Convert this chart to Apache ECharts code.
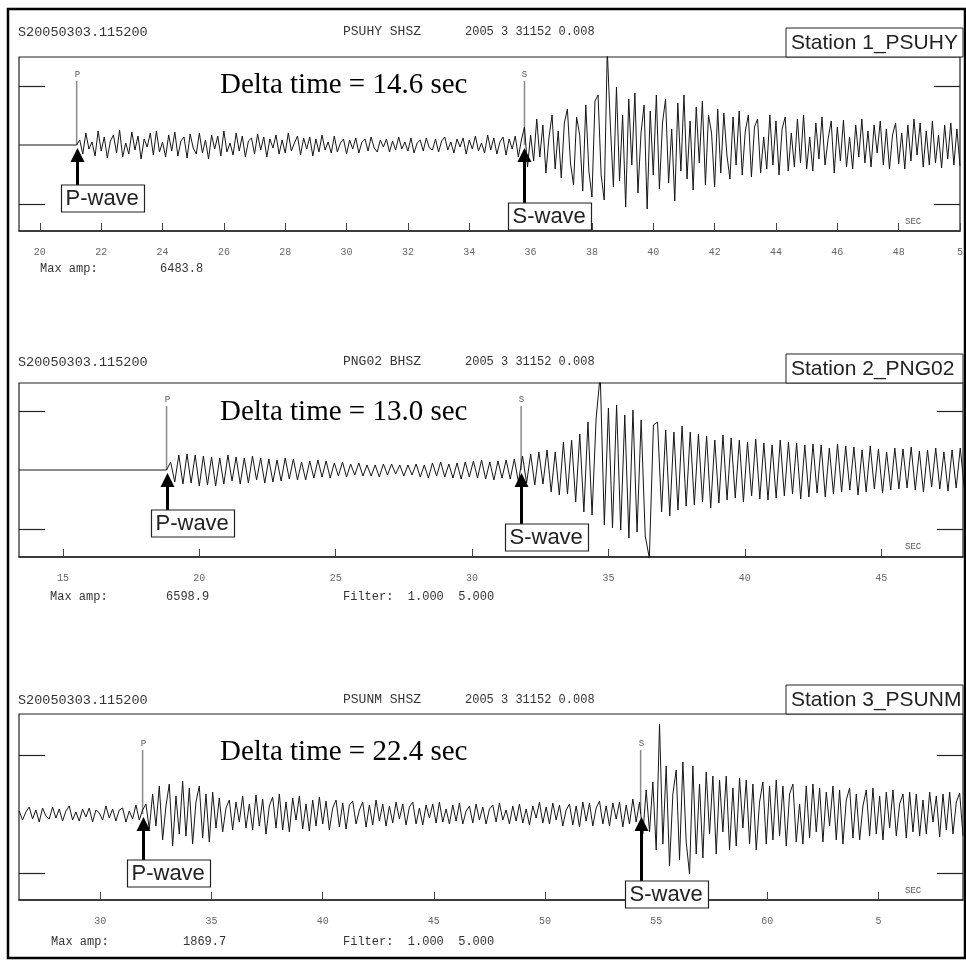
<!DOCTYPE html>
<html><head><meta charset="utf-8">
<script src="https://cdn.jsdelivr.net/npm/echarts@6/dist/echarts.min.js"></script>
<style>html,body{margin:0;padding:0;background:#fff}#c{width:966px;height:960px}</style>
</head><body><div id="c"></div><script>
// Three vertical-component seismograms of the 2005-03-03 event with P and S picks.
const eventId = 'S20050303.115200';
const channelNames = ['PSUHY SHSZ', 'PNG02 BHSZ', 'PSUNM SHSZ'];
const originTimes = ['2005 3 31152 0.008', '2005 3 31152 0.008', '2005 3 31152 0.008'];
const stationNames = ['Station 1_PSUHY', 'Station 2_PNG02', 'Station 3_PSUNM'];
const maxAmps = ['6483.8', '6598.9', '1869.7'];
const filterBands = ['', '1.000  5.000', '1.000  5.000'];
const pickP = [21.2, 18.8, 31.9];
const pickS = [35.8, 31.8, 54.3];
const deltaLabels = ['Delta time = 14.6 sec', 'Delta time = 13.0 sec', 'Delta time = 22.4 sec'];

// time windows (s) and tick labels of each record
const window1 = [19.32, 50.0];
const window2 = [13.39, 48.0];
const window3 = [26.34, 68.8];
const ticks1 = [20, 22, 24, 26, 28, 30, 32, 34, 36, 38, 40, 42, 44, 46, 48, 50];
const tickLabels1 = ['20', '22', '24', '26', '28', '30', '32', '34', '36', '38', '40', '42', '44', '46', '48', '5'];
const ticks2 = [15, 20, 25, 30, 35, 40, 45];
const tickLabels2 = ['15', '20', '25', '30', '35', '40', '45'];
const ticks3 = [30, 35, 40, 45, 50, 55, 60, 65];
const tickLabels3 = ['30', '35', '40', '45', '50', '55', '60', '5'];

// amplitude ranges shown in each panel (display units)
const ampRange1 = [-86, 88];
const ampRange2 = [-87, 87];
const ampRange3 = [-86, 100];
const ampMarks = [-59, 59];

// sampled traces: start time, sample step, amplitudes
const trace1Start = 21.2, trace1Step = 0.1;
const trace1 = [
  0, 5, -9, 12, -4, 3, -11, 14, -6, 8,
  -13, 4, 10, -8, 15, -12, 2, -9, 13, -5,
  9, -14, 6, -2, 12, -10, 14, -7, 3, -12,
  10, -6, 13, -11, 4, 8, -13, 11, -3, -9,
  12, -8, 5, -14, 10, -4, 9, -11, 14, -7,
  2, -10, 12, -6, 9, -12, 4, 7, -9, 11,
  -5, 8, -12, 6, -3, 10, -9, 5, -8, 12,
  -6, 2, 9, -10, 7, -4, 8, -11, 6, -7,
  10, -5, 3, -8, 9, -7, 2, 6, -9, 5,
  -4, 7, -8, 3, 6, -6, 8, -3, -7, 5,
  -2, 6, -7, 4, -5, 8, -4, 3, -6, 7,
  -8, 2, 5, -6, 7, -3, -5, 6, -7, 4,
  8, -5, 3, -8, 6, -2, 7, -9, 5, -4,
  9, -6, 2, -8, 10, -5, 7, -9, 3, 8,
  -10, 6, -4, 9, -12, 5, 18, -22, 10, -16,
  26, -12, 20, -28, 8, 30, -24, 14, -33, 22,
  36, -18, -40, 28, 10, -46, 40, -26, -52, 44,
  50, -30, -55, 95, 20, -42, 58, -36, 30, -62,
  46, -20, 52, -48, 12, 40, -64, 34, -30, 50,
  -44, 22, 46, -38, 16, -56, 42, -26, 50, -34,
  24, -45, 38, -18, 44, -40, 30, 12, -42, 36,
  -28, 32, -10, -34, 28, -20, 34, -30, 14, 30,
  -32, 18, 26, -28, 8, -24, 30, -20, 24, -30,
  16, 28, -26, 12, -22, 26, -18, 30, -24, 8,
  -26, 22, -14, 28, -20, 6, 24, -28, 18, -16,
  25, -22, 8, -24, 20, -12, 26, -18, 14, -22,
  20, -8, 24, -20, 16, -24, 10, 22, -19, 12,
  -24, 20, -16, 26, -10, 22, -22, 14, -20, 24,
  -18, 10, -23, 20, -14, 22, -20, 16, -21
];
const trace2Start = 18.8, trace2Step = 0.15;
const trace2 = [
  0, 8, -12, 15, -14, 16, -13, 15, -16, 14,
  -15, 13, -16, 12, -14, 15, -11, 13, -14, 12,
  -13, 14, -10, 12, -13, 11, -12, 10, -11, 12,
  -9, 11, -10, 8, -10, 9, -8, 10, -7, 9,
  -8, 7, -6, 8, -7, 6, -5, 7, -6, 5,
  -6, 5, -7, 6, -5, 6, -4, 5, -6, 5,
  -5, 6, -7, 5, -8, 7, -6, 8, -7, 6,
  -8, 7, -9, 8, -7, 9, -8, 10, -9, 8,
  -10, 9, -8, 10, -9, 11, -12, 14, -13, 16,
  -15, 18, -14, 20, -22, 18, -25, 28, -24, 30,
  -32, 36, -42, 48, -45, 52, 95, -55, 62, -58,
  65, -60, 55, -68, 60, -62, 50, -66, -88, 45,
  48, -42, 40, -46, 38, -40, 44, -36, 38, -35,
  36, -32, 34, -38, 30, -33, 35, -30, 32, -28,
  30, -32, 28, -26, 31, -29, 27, -30, 25, -28,
  30, -26, 28, -24, 27, -29, 25, -27, 26, -23,
  25, -27, 22, -24, 26, -22, 24, -20, 23, -25,
  20, -22, 24, -19, 21, -23, 18, -20, 22, -19,
  21, -18, 23, -20, 19, -22, 20, -17, 22, -19,
  18, -21, 20, -18, 22, -19
];
const trace3Start = 26.35, trace3Step = 0.15;
const trace3 = [
  3, -6, 2, 7, -5, 4, -8, 6, -2, -5,
  7, -4, 5, -7, 3, 8, -6, 2, -7, 5,
  -3, 6, -8, 4, 1, -6, 8, -4, 5, -7,
  4, 6, -8, 3, -5, 9, -6, 4, 10, -15,
  20, -12, 28, -26, 8, 30, -32, 18, -20, 33,
  -22, 26, -30, 12, 28, -24, 20, -28, 22, -14,
  16, -18, 6, 14, -16, 12, -8, 18, -14, 10,
  -16, 19, -12, 15, -20, 8, 17, -14, 20, -16,
  12, -18, 16, -6, 18, -15, 10, -17, 14, -12,
  17, -10, 13, -16, 6, 14, -13, 11, -15, 9,
  13, -10, 4, 12, -13, 9, -11, 14, -7, 10,
  -12, 8, -9, 12, -5, 10, -11, 7, 12, -10,
  6, -11, 9, -4, 10, -9, 12, -8, 5, -10,
  9, -7, 11, -10, 3, 8, -9, 10, -6, 7,
  -10, 5, 9, -8, 11, -6, 4, -10, 8, -7,
  10, -9, 5, -11, 8, -4, 12, -9, 7, -10,
  11, -6, 9, -12, 4, 10, -11, 8, -13, 12,
  -7, 11, -12, 6, 13, -10, 8, -12, 11, -5,
  12, -13, 9, -10, 15, -8, 12, -20, 24, -18,
  32, -36, 90, -30, 48, -52, 20, 44, -46, 52,
  -28, -60, 48, -40, 30, -44, 42, -20, 38, -40,
  34, -18, 38, -36, 26, -32, 36, -14, 34, -30,
  30, -36, 12, 32, -30, 28, -26, 34, -22, 28,
  -32, 20, 30, -28, 10, -30, 28, -24, 30, -18,
  26, -28, 22, -12, 28, -26, 24, -30, 14, 26,
  -24, 20, -26, 8, 24, -22, 26, -20, 18, -26,
  22, -14, 24, -22, 10, 20, -24, 22, -18, 20,
  -22, 14, -20, 22, -8, 18, -23, 20, -16, 22,
  -20, 12, 21, -22
];

const panels = [
  { win: window1, ticks: ticks1, labels: tickLabels1, amp: ampRange1, start: trace1Start, step: trace1Step, trace: trace1, quiet: true },
  { win: window2, ticks: ticks2, labels: tickLabels2, amp: ampRange2, start: trace2Start, step: trace2Step, trace: trace2, quiet: true },
  { win: window3, ticks: ticks3, labels: tickLabels3, amp: ampRange3, start: trace3Start, step: trace3Step, trace: trace3, quiet: false }
];

// layout of each panel (pixels)
const layout = [
  { top: 57, height: 174, head: 32, station: 28, maxRow: 269, maxX: [40, 160], sec: 222, pBox: 185, sBox: 203, deltaY: 85 },
  { top: 383, height: 174, head: 362, station: 354, maxRow: 597, maxX: [50, 166], sec: 547, pBox: 510, sBox: 524, deltaY: 412 },
  { top: 714, height: 186, head: 700, station: 685, maxRow: 942, maxX: [51, 183], sec: 891, pBox: 860, sBox: 881, deltaY: 752 }
];

const MONO = '"Liberation Mono", "DejaVu Sans Mono", monospace';
const chart = echarts.init(document.getElementById('c'));

function buildSeries(p) {
  const pts = [];
  if (p.quiet) pts.push([p.win[0], 0]);
  p.trace.forEach((v, k) => pts.push([+(p.start + k * p.step).toFixed(3), v]));
  return pts;
}

const grid = [], xAxis = [], yAxis = [], series = [];
panels.forEach((p, i) => {
  const L = layout[i];
  grid.push({ left: 19, right: 3, top: L.top, height: L.height, show: true, borderColor: '#222', borderWidth: 1.2, backgroundColor: 'transparent' });
  xAxis.push({
    type: 'value', gridIndex: i, min: p.win[0], max: p.win[1],
    axisLine: { onZero: false, lineStyle: { color: '#222', width: 1.5 } },
    axisTick: { inside: true, length: 8, customValues: p.ticks, lineStyle: { color: '#444', width: 1 } },
    axisLabel: { customValues: p.ticks, margin: 16, color: '#666', fontFamily: MONO, fontSize: 10,
      formatter: v => { const k = p.ticks.indexOf(Math.round(v)); return k >= 0 ? p.labels[k] : ''; } },
    splitLine: { show: false }
  });
  ['left', 'right'].forEach(side => yAxis.push({
    type: 'value', gridIndex: i, position: side, min: p.amp[0], max: p.amp[1],
    axisLine: { show: false, onZero: false },
    axisTick: { inside: true, length: 26, customValues: ampMarks, lineStyle: { color: '#222', width: 1.2 } },
    axisLabel: { show: false }, splitLine: { show: false }
  }));
  series.push({ type: 'line', xAxisIndex: i, yAxisIndex: 2 * i, data: buildSeries(p), showSymbol: false,
    lineStyle: { color: '#161616', width: 1 }, clip: true, animation: false, z: 3 });
  [pickP[i], pickS[i]].forEach(t => series.push({ type: 'line', xAxisIndex: i, yAxisIndex: 2 * i,
    data: [[t, 0], [t, 64]], showSymbol: false, lineStyle: { color: '#8a8a8a', width: 1.5 }, animation: false, z: 2 }));
});

chart.setOption({ animation: false, grid, xAxis, yAxis, series });

// annotations positioned from the picks
const g = [];
g.push({ type: 'rect', shape: { x: 8, y: 9, width: 957, height: 949 }, style: { fill: 'none', stroke: '#000', lineWidth: 2.5 }, silent: true });
panels.forEach((p, i) => {
  const L = layout[i];
  const txt = (x, y, text, font, color, align, z) => g.push({ type: 'text', x, y, z: z || 10, style: { text, font, fill: color || '#333', textAlign: align || 'left', textVerticalAlign: 'middle' } });
  txt(18, L.head, eventId, '13.5px ' + MONO, '#333');
  txt(343, L.head, channelNames[i], '13px ' + MONO, '#333');
  txt(465, L.head, originTimes[i], '12px ' + MONO, '#333');
  // station name box
  g.push({ type: 'rect', z: 9, shape: { x: 786, y: L.station, width: 177, height: L.top - L.station }, style: { fill: '#fff', stroke: '#222', lineWidth: 1 } });
  txt(791, L.station + (L.top - L.station) / 2 + 1, stationNames[i], '21px "Liberation Sans", Arial, sans-serif', '#222', 'left', 12);
  txt(L.maxX[0], L.maxRow, 'Max amp:', '12px ' + MONO, '#333');
  txt(L.maxX[1], L.maxRow, maxAmps[i], '12px ' + MONO, '#333');
  if (filterBands[i]) txt(343, L.maxRow, 'Filter:  ' + filterBands[i], '12px ' + MONO, '#333');
  txt(905, L.sec, 'SEC', '9px ' + MONO, '#555');
  txt(220, L.deltaY, deltaLabels[i], '29px "Liberation Serif", "Times New Roman", serif', '#000');
  [['P', pickP[i], L.pBox, 'P-wave'], ['S', pickS[i], L.sBox, 'S-wave']].forEach(([ph, t, boxTop, name]) => {
    const top = chart.convertToPixel({ gridIndex: i }, [t, 64]);
    const mid = chart.convertToPixel({ gridIndex: i }, [t, 0]);
    const x = Math.round(top[0]) + 0.5;
    txt(x, top[1] - 6, ph, '9px ' + MONO, '#555', 'center');
    const tip = mid[1] + 3;
    g.push({ type: 'polygon', z: 11, shape: { points: [[x, tip], [x - 7, tip + 14], [x + 7, tip + 14]] }, style: { fill: '#000' } });
    g.push({ type: 'rect', z: 11, shape: { x: x - 1.5, y: tip + 10, width: 3, height: boxTop - tip - 10 }, style: { fill: '#000' } });
    g.push({ type: 'rect', z: 11, shape: { x: x - 16, y: boxTop, width: 83, height: 27 }, style: { fill: '#fff', stroke: '#222', lineWidth: 1.2 } });
    txt(x - 12, boxTop + 14, name, '22px "Liberation Sans", Arial, sans-serif', '#222', 'left', 13);
  });
});
chart.setOption({ graphic: g });
</script></body></html>
